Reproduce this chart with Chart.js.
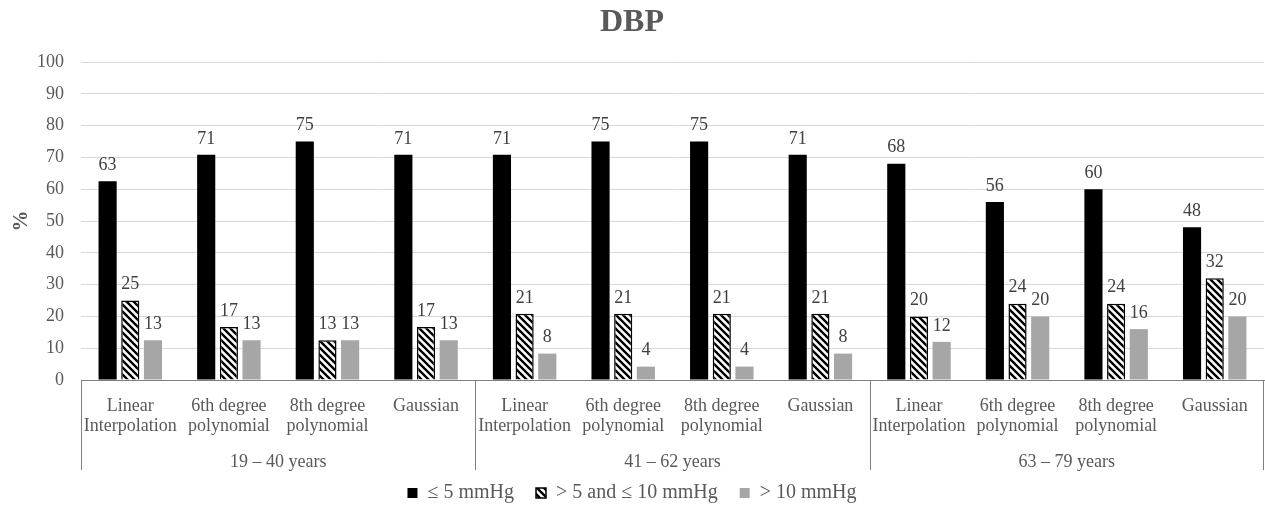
<!DOCTYPE html>
<html>
<head>
<meta charset="utf-8">
<script src="https://cdn.jsdelivr.net/npm/chart.js@4.4.1/dist/chart.umd.min.js"></script>
<style>
  html, body { margin: 0; padding: 0; background: #fff; }
  #wrap { width: 1265px; height: 510px; }
</style>
</head>
<body>
<div id="wrap"><canvas id="dbpChart" width="1265" height="510"></canvas></div>
<script>
// Method labels, repeated once per age group
const methods = [
    ['Linear', 'Interpolation'], ['6th degree', 'polynomial'], ['8th degree', 'polynomial'], ['Gaussian'],
    ['Linear', 'Interpolation'], ['6th degree', 'polynomial'], ['8th degree', 'polynomial'], ['Gaussian'],
    ['Linear', 'Interpolation'], ['6th degree', 'polynomial'], ['8th degree', 'polynomial'], ['Gaussian']
];
const ageGroups = ['19 \u2013 40 years', '41 \u2013 62 years', '63 \u2013 79 years'];

// % of readings per error band
const upTo5 = [62.5, 70.8, 75, 70.8, 70.8, 75, 75, 70.8, 68, 56, 60, 48];
const from5to10 = [25, 16.7, 12.5, 16.7, 20.8, 20.8, 20.8, 20.8, 20, 24, 24, 32];
const over10 = [12.5, 12.5, 12.5, 12.5, 8.3, 4.2, 4.2, 8.3, 12, 20, 16, 20];

const yTicks = [0, 10, 20, 30, 40, 50, 60, 70, 80, 90, 100];

const FONT = '"Liberation Serif", "Times New Roman", serif';
const GREY_TEXT = '#595959';

/**
 * Diagonal stripes for the middle series
 */
function makeHatch() {
    const c = document.createElement('canvas');
    c.width = 7;
    c.height = 7;
    const g = c.getContext('2d');
    g.fillStyle = '#fff';
    g.fillRect(0, 0, 7, 7);
    g.strokeStyle = '#000';
    g.lineWidth = 2.4;
    g.beginPath();
    g.moveTo(-1, -1); g.lineTo(8, 8);
    g.moveTo(-8, -1); g.lineTo(1, 8);
    g.moveTo(6, -1); g.lineTo(15, 8);
    g.stroke();
    return g.createPattern(c, 'repeat');
}

// Value labels above each bar
const valueLabels = {
    id: 'valueLabels',
    afterDatasetsDraw(chart) {
        const ctx = chart.ctx;
        ctx.save();
        ctx.font = '18px ' + FONT;
        ctx.fillStyle = '#404040';
        ctx.textAlign = 'center';
        ctx.textBaseline = 'bottom';
        chart.data.datasets.forEach((ds, i) => {
            chart.getDatasetMeta(i).data.forEach((bar, j) => {
                ctx.fillText(String(Math.round(ds.data[j])), bar.x, bar.y - 7);
            });
        });
        ctx.restore();
    }
};

// Age-group boxes and labels under the category ticks
const groupBoxes = {
    id: 'groupBoxes',
    afterDraw(chart) {
        const x = chart.scales.x;
        const ctx = chart.ctx;
        const step = x.width / methods.length;
        const top = x.top;
        const bottom = x.top + 90;
        ctx.save();
        ctx.strokeStyle = '#7f7f7f';
        ctx.lineWidth = 1;
        for (let g = 0; g <= ageGroups.length; g++) {
            let px = Math.round(x.getPixelForValue(g * 4) - step / 2) + 0.5;
            if (g === ageGroups.length) px -= 1;
            ctx.beginPath();
            ctx.moveTo(px, top);
            ctx.lineTo(px, bottom);
            ctx.stroke();
        }
        ctx.font = '18px ' + FONT;
        ctx.fillStyle = GREY_TEXT;
        ctx.textAlign = 'center';
        ctx.textBaseline = 'middle';
        ageGroups.forEach((label, g) => {
            const cx = (x.getPixelForValue(g * 4) + x.getPixelForValue(g * 4 + 3)) / 2;
            ctx.fillText(label, cx, top + 82);
        });
        ctx.restore();
    }
};

const hatch = makeHatch();

new Chart(document.getElementById('dbpChart'), {
    type: 'bar',
    data: {
        labels: methods,
        datasets: [
            {
                label: '\u2264 5 mmHg',
                data: upTo5,
                backgroundColor: '#000000',
                borderWidth: 0
            },
            {
                label: '> 5 and \u2264 10 mmHg',
                data: from5to10,
                backgroundColor: hatch,
                borderColor: '#000000',
                borderWidth: 1.5
            },
            {
                label: '> 10 mmHg',
                data: over10,
                backgroundColor: '#a6a6a6',
                borderWidth: 0
            }
        ]
    },
    options: {
        responsive: false,
        animation: false,
        devicePixelRatio: 1,
        categoryPercentage: 0.69,
        barPercentage: 0.8,
        layout: { padding: { left: 0, right: 1, top: 0, bottom: 0 } },
        scales: {
            y: {
                min: 0,
                max: 100,
                afterBuildTicks(scale) {
                    scale.ticks = yTicks.map(v => ({ value: v }));
                },
                afterFit(scale) {
                    scale.width = 81;
                },
                grid: { color: '#d9d9d9', drawTicks: false },
                border: { display: false },
                ticks: {
                    color: GREY_TEXT,
                    font: { family: FONT, size: 18 },
                    padding: 17
                },
                title: {
                    display: true,
                    text: '%',
                    color: GREY_TEXT,
                    font: { family: FONT, size: 21, weight: 'bold' },
                    padding: { top: 9, bottom: 0 }
                }
            },
            x: {
                afterFit(scale) {
                    scale.height = 81;
                },
                grid: { display: false },
                border: { display: true, color: '#7f7f7f', width: 1 },
                ticks: {
                    color: GREY_TEXT,
                    font: { family: FONT, size: 18, lineHeight: 1.08 },
                    padding: 9,
                    maxRotation: 0,
                    autoSkip: false
                }
            }
        },
        plugins: {
            title: {
                display: true,
                text: 'DBP',
                color: GREY_TEXT,
                font: { family: FONT, size: 32, weight: 'bold' },
                padding: { top: 4, bottom: 19.6 }
            },
            legend: {
                position: 'bottom',
                maxHeight: 49,
                labels: {
                    color: GREY_TEXT,
                    font: { family: FONT, size: 20 },
                    boxWidth: 10,
                    boxHeight: 10,
                    padding: 22
                }
            },
            tooltip: { enabled: false }
        }
    },
    plugins: [valueLabels, groupBoxes]
});
</script>
</body>
</html>
